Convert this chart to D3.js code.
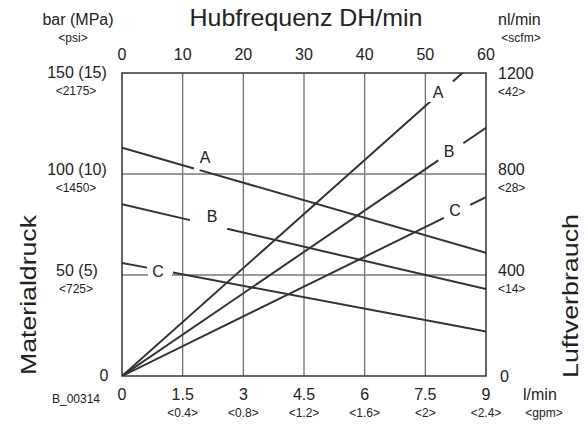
<!DOCTYPE html>
<html>
<head>
<meta charset="utf-8">
<script src="https://cdn.jsdelivr.net/npm/d3@7"></script>
<style>
  html, body { margin: 0; padding: 0; background: #fff; }
  svg { display: block; font-family: "Liberation Sans", Arial, sans-serif; }
  text { fill: #222; }
</style>
</head>
<body>
<svg id="chart" width="586" height="425"></svg>
<script>
// flow axis (bottom) in l/min, with gpm sub labels
const flowTicks = [0, 1.5, 3, 4.5, 6, 7.5, 9];
const gpmLabels = ["", "<0.4>", "<0.8>", "<1.2>", "<1.6>", "<2>", "<2.4>"];
// stroke frequency (top)
const strokeTicks = [0, 10, 20, 30, 40, 50, 60];
// material pressure (left)
const pressureTicks = [0, 50, 100, 150];
const pressureLabels = ["0", "50 (5)", "100 (10)", "150 (15)"];
const psiLabels = ["", "<725>", "<1450>", "<2175>"];
// air consumption (right)
const airTicks = [0, 400, 800, 1200];
const airLabels = ["0", "400", "800", "1200"];
const scfmLabels = ["", "<14>", "<28>", "<42>"];

const seriesNames = ["A", "B", "C"];
// pressure lines, value at 0 and at 9 l/min (bar)
const pressureAt0 = [113, 85, 56];
const pressureAt9 = [61, 43, 22];
// air lines, value at 0 and at 9 l/min (nl/min)
const airAt0 = [0, 0, 0];
const airAt9 = [1283, 983, 708];

const svg = d3.select("#chart");
const pLeft = 122, pRight = 486, pTop = 73, pBottom = 376;

const x = d3.scaleLinear().domain([0, 9]).range([pLeft, pRight]);
const xTop = d3.scaleLinear().domain([0, 60]).range([pLeft, pRight]);
const yP = d3.scaleLinear().domain([0, 150]).range([pBottom, pTop]);
const yA = d3.scaleLinear().domain([0, 1200]).range([pBottom, pTop]);

svg.append("defs").append("clipPath").attr("id", "plotClip")
  .append("rect").attr("x", pLeft).attr("y", pTop)
  .attr("width", pRight - pLeft).attr("height", pBottom - pTop);

// grid
const grid = svg.append("g");
grid.selectAll("line.v")
  .data(flowTicks.filter(d => d > 0 && d < 9))
  .enter().append("line")
  .attr("x1", d => x(d)).attr("x2", d => x(d))
  .attr("y1", pTop).attr("y2", pBottom)
  .attr("stroke", "#666").attr("stroke-width", 1.2);
grid.selectAll("line.h")
  .data(pressureTicks.filter(d => d > 0 && d < 150))
  .enter().append("line")
  .attr("x1", pLeft).attr("x2", pRight)
  .attr("y1", d => yP(d)).attr("y2", d => yP(d))
  .attr("stroke", "#777").attr("stroke-width", 1.4);

// label gaps along x (l/min) and label centers (px)
const pressureGaps = [[1.78, 1.92], [1.68, 2.6], [0.62, 1.26]];
const pressureLabelPos = [[205, 157], [212, 216], [158, 271]];
const airGaps = [[7.66, 8.18], [7.82, 8.44], [7.96, 8.61]];
const airLabelPos = [[438, 92], [449, 151], [455, 210]];

function drawSeries(g, y0, y1, gap) {
  const pts = [[x(0), y0], [x(9), y1]];
  const len = Math.hypot(pts[1][0] - pts[0][0], pts[1][1] - pts[0][1]);
  const d0 = len * gap[0] / 9, d1 = len * gap[1] / 9;
  g.append("path")
    .attr("d", d3.line()(pts))
    .attr("fill", "none")
    .attr("stroke", "#333")
    .attr("stroke-width", 2)
    .attr("stroke-dasharray", d0 + " " + (d1 - d0) + " " + len);
}

const lines = svg.append("g").attr("clip-path", "url(#plotClip)");
seriesNames.forEach((name, i) => {
  drawSeries(lines, yP(pressureAt0[i]), yP(pressureAt9[i]), pressureGaps[i]);
  drawSeries(lines, yA(airAt0[i]), yA(airAt9[i]), airGaps[i]);
});

// series labels (white box under them hides grid)
function seriesLabel(name, pos) {
  svg.append("rect")
    .attr("x", pos[0] - 10).attr("y", pos[1] - 10)
    .attr("width", 24).attr("height", 20)
    .attr("fill", "#fff");
  svg.append("text")
    .attr("x", pos[0]).attr("y", pos[1] + 6)
    .attr("text-anchor", "middle")
    .attr("font-size", 16)
    .text(name);
}
seriesNames.forEach((name, i) => {
  seriesLabel(name, pressureLabelPos[i]);
  seriesLabel(name, airLabelPos[i]);
});

// frame
svg.append("rect")
  .attr("x", pLeft).attr("y", pTop)
  .attr("width", pRight - pLeft).attr("height", pBottom - pTop)
  .attr("fill", "none").attr("stroke", "#333").attr("stroke-width", 1.5);

// top axis labels
svg.append("g").selectAll("text")
  .data(strokeTicks).enter().append("text")
  .attr("x", d => xTop(d)).attr("y", 60)
  .attr("text-anchor", "middle").attr("font-size", 16)
  .text(d => d);

// bottom axis labels
const bot = svg.append("g");
bot.selectAll("text.n")
  .data(flowTicks).enter().append("text")
  .attr("x", d => x(d)).attr("y", 400)
  .attr("text-anchor", "middle").attr("font-size", 16)
  .text(d => d);
bot.selectAll("text.s")
  .data(flowTicks).enter().append("text")
  .attr("x", d => x(d)).attr("y", 417)
  .attr("text-anchor", "middle").attr("font-size", 12)
  .text((d, i) => gpmLabels[i]);

// left axis labels
const lft = svg.append("g");
pressureTicks.forEach((d, i) => {
  const end = (i === 0 || i === pressureTicks.length - 1);
  const base = yP(d) + (end ? 5 : 1);
  lft.append("text")
    .attr("x", i === 0 ? 104 : 77).attr("y", base)
    .attr("text-anchor", "middle").attr("font-size", 16)
    .text(pressureLabels[i]);
  lft.append("text")
    .attr("x", 76).attr("y", base + 17)
    .attr("text-anchor", "middle").attr("font-size", 12)
    .text(psiLabels[i]);
});

// right axis labels
const rgt = svg.append("g");
airTicks.forEach((d, i) => {
  const end = (i === 0 || i === airTicks.length - 1);
  const base = yA(d) + (end ? 6 : 1);
  rgt.append("text")
    .attr("x", i === 0 ? 500 : 498).attr("y", base)
    .attr("font-size", 16)
    .text(airLabels[i]);
  rgt.append("text")
    .attr("x", 498).attr("y", base + 17)
    .attr("font-size", 12)
    .text(scfmLabels[i]);
});

// units and titles
svg.append("text").attr("x", 78).attr("y", 25).attr("text-anchor", "middle")
  .attr("font-size", 16).text("bar (MPa)");
svg.append("text").attr("x", 73).attr("y", 42).attr("text-anchor", "middle")
  .attr("font-size", 12).text("<psi>");
svg.append("text").attr("x", 498).attr("y", 25)
  .attr("font-size", 16).text("nl/min");
svg.append("text").attr("x", 521).attr("y", 42).attr("text-anchor", "middle")
  .attr("font-size", 12).text("<scfm>");
svg.append("text").attr("x", 523).attr("y", 400)
  .attr("font-size", 16).text("l/min");
svg.append("text").attr("x", 544).attr("y", 417).attr("text-anchor", "middle")
  .attr("font-size", 12).text("<gpm>");
svg.append("text").attr("x", 52).attr("y", 403)
  .attr("font-size", 12).text("B_00314");

svg.append("text").attr("x", 306).attr("y", 26).attr("text-anchor", "middle")
  .attr("font-size", 24).attr("textLength", 233).attr("lengthAdjust", "spacingAndGlyphs")
  .text("Hubfrequenz DH/min");

svg.append("text")
  .attr("transform", "translate(36,295) rotate(-90)")
  .attr("text-anchor", "middle").attr("font-size", 22)
  .attr("textLength", 160).attr("lengthAdjust", "spacingAndGlyphs")
  .text("Materialdruck");
svg.append("text")
  .attr("transform", "translate(578,296) rotate(-90)")
  .attr("text-anchor", "middle").attr("font-size", 22)
  .attr("textLength", 164).attr("lengthAdjust", "spacingAndGlyphs")
  .text("Luftverbrauch");
</script>
</body>
</html>
